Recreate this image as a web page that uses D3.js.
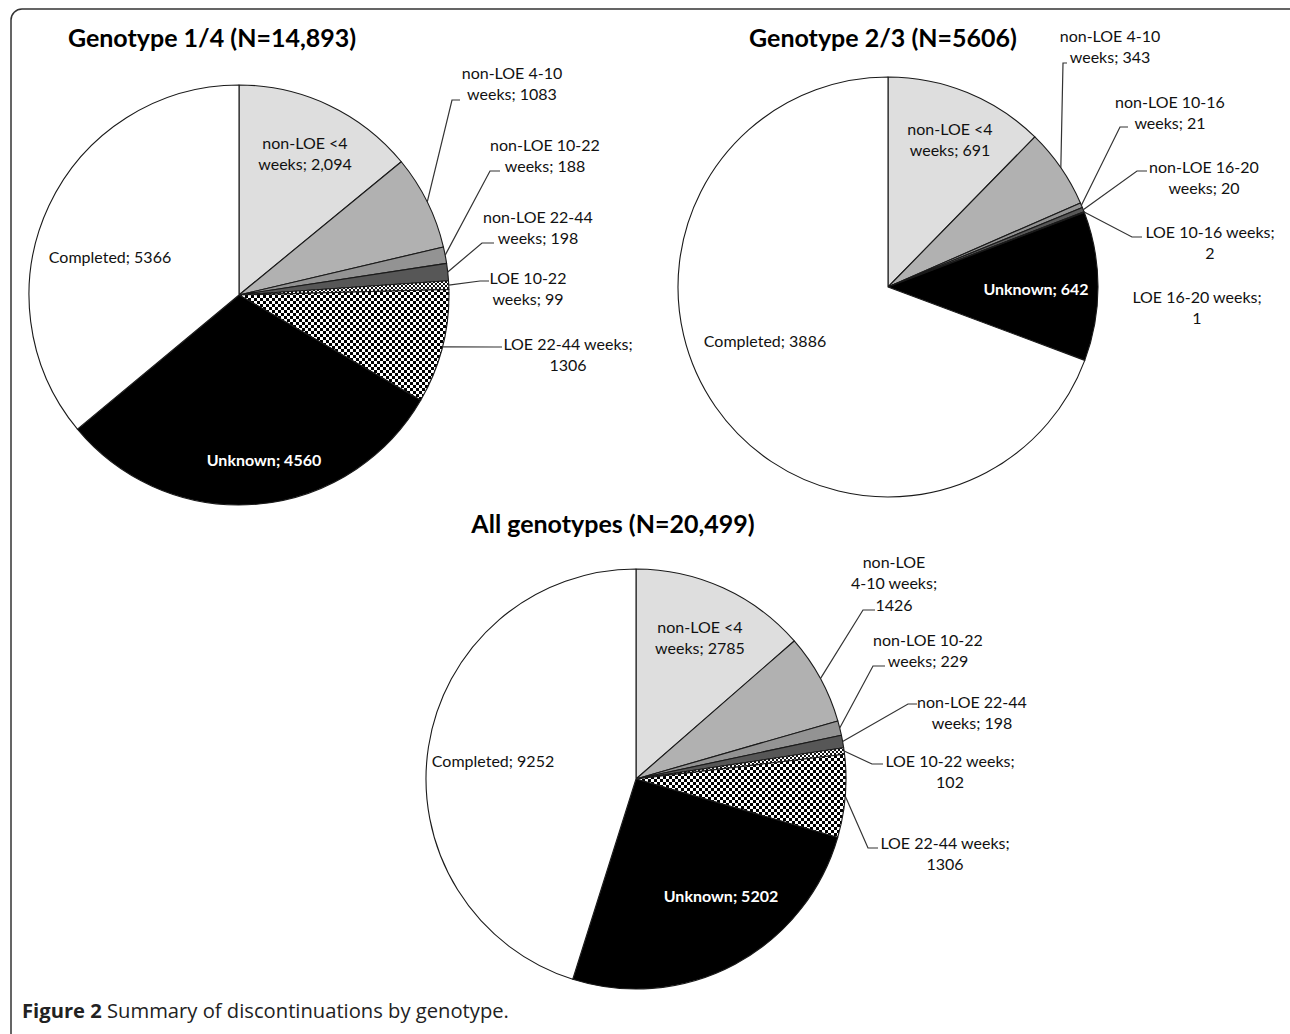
<!DOCTYPE html>
<html><head><meta charset="utf-8">
<script src="https://cdn.jsdelivr.net/npm/d3@7"></script>
<style>
html,body{margin:0;padding:0;background:#fff;}
svg{display:block;}
text{font-family:Lato,"Open Sans",sans-serif;fill:#111;}
</style></head>
<body>
<svg id="chart" width="1290" height="1034"></svg>
<script>
// ---------- DATA ----------
const titles = ["Genotype 1/4 (N=14,893)", "Genotype 2/3 (N=5606)", "All genotypes (N=20,499)"];
const categories1 = ["non-LOE <4 weeks","non-LOE 4-10 weeks","non-LOE 10-22 weeks","non-LOE 22-44 weeks","LOE 10-22 weeks","LOE 22-44 weeks","Unknown","Completed"];
const values1 = [2094, 1083, 188, 198, 99, 1306, 4560, 5366];
const categories2 = ["non-LOE <4 weeks","non-LOE 4-10 weeks","non-LOE 10-16 weeks","non-LOE 16-20 weeks","LOE 10-16 weeks","LOE 16-20 weeks","Unknown","Completed"];
const values2 = [691, 343, 21, 20, 2, 1, 642, 3886];
const categories3 = ["non-LOE <4 weeks","non-LOE 4-10 weeks","non-LOE 10-22 weeks","non-LOE 22-44 weeks","LOE 10-22 weeks","LOE 22-44 weeks","Unknown","Completed"];
const values3 = [2785, 1426, 229, 198, 102, 1306, 5202, 9252];
const captionBold = "Figure 2";
const captionText = " Summary of discontinuations by genotype.";

// ---------- LAYOUT ----------
const sliceFills = ["#dedede", "#b1b1b1", "#939393", "#575757", "url(#checkFine)", "url(#checkBig)", "#000000", "#ffffff"];
const R = 210;
const pieLayouts = [
  { cx: 239, cy: 295, title: [212, 38], labels: [
    { x: 305, y: 143, br: [2], comma: true },
    { x: 512, y: 73, br: [2], lead: [[452,100],[460,100]] },
    { x: 545, y: 145, br: [2], lead: [[490,171],[500,171]] },
    { x: 538, y: 217, br: [2], lead: [[482,243],[494,243]] },
    { x: 528, y: 278, br: [2], lead: [[480,281],[489,281]] },
    { x: 568, y: 344, br: [3], lead: [[495,347],[502,347]] },
    { x: 264, y: 460, br: [], bold: true, white: true },
    { x: 110, y: 257, br: [] } ] },
  { cx: 888, cy: 287, title: [883, 38], labels: [
    { x: 950, y: 129, br: [2] },
    { x: 1110, y: 36, br: [2], lead: [[1063,63],[1067,63]] },
    { x: 1170, y: 102, br: [2], lead: [[1120,127],[1128,127]] },
    { x: 1204, y: 167, br: [2], lead: [[1137,171],[1147,171]] },
    { x: 1210, y: 232, br: [3], lead: [[1132,237],[1142,237]] },
    { x: 1197, y: 297, br: [3] },
    { x: 1036, y: 289, br: [], bold: true, white: true },
    { x: 765, y: 341, br: [] } ] },
  { cx: 636, cy: 779, title: [613, 524], labels: [
    { x: 700, y: 627, br: [2] },
    { x: 894, y: 562, br: [1, 3], lead: [[863,610],[875,610]] },
    { x: 928, y: 640, br: [2], lead: [[873,666],[885,666]] },
    { x: 972, y: 702, br: [2], lead: [[908,704],[917,704]] },
    { x: 950, y: 761, br: [3], lead: [[872,764],[883,764]] },
    { x: 945, y: 843, br: [3], lead: [[868,848],[878,848]] },
    { x: 721, y: 896, br: [], bold: true, white: true },
    { x: 493, y: 761, br: [] } ] }
];
const lineGap = 21.5;

// ---------- DRAW ----------
const svg = d3.select("#chart");
const defs = svg.append("defs");
const pBig = defs.append("pattern").attr("id","checkBig").attr("patternUnits","userSpaceOnUse").attr("width",6).attr("height",6);
pBig.append("rect").attr("width",6).attr("height",6).attr("fill","#fff");
pBig.append("rect").attr("width",3).attr("height",3).attr("fill","#000");
pBig.append("rect").attr("x",3).attr("y",3).attr("width",3).attr("height",3).attr("fill","#000");
const pFine = defs.append("pattern").attr("id","checkFine").attr("patternUnits","userSpaceOnUse").attr("width",4).attr("height",4);
pFine.append("rect").attr("width",4).attr("height",4).attr("fill","#fff");
pFine.append("rect").attr("width",2).attr("height",2).attr("fill","#111");
pFine.append("rect").attr("x",2).attr("y",2).attr("width",2).attr("height",2).attr("fill","#111");

// frame
svg.append("rect").attr("x",11).attr("y",9).attr("width",1300).attr("height",1040).attr("rx",11)
  .attr("fill","none").attr("stroke","#333").attr("stroke-width",1.5);

const datasets = [[categories1, values1], [categories2, values2], [categories3, values3]];
const pie = d3.pie().sort(null).value(d => d.v).startAngle(0).endAngle(2 * Math.PI);
const arc = d3.arc().innerRadius(0).outerRadius(R);
const edge = d3.arc().innerRadius(R).outerRadius(R);
const fmtComma = d3.format(",");

datasets.forEach(([cats, vals], i) => {
  const L = pieLayouts[i];
  const g = svg.append("g").attr("transform", `translate(${L.cx},${L.cy})`);
  const arcs = pie(cats.map((c, k) => ({ c, v: vals[k], k })));
  g.selectAll("path").data(arcs).join("path")
    .attr("d", arc)
    .attr("fill", d => sliceFills[d.data.k])
    .attr("stroke", "#1a1a1a").attr("stroke-width", 1.1).attr("stroke-linejoin", "round");

  svg.append("text").attr("x", L.title[0]).attr("y", L.title[1]).attr("dy", "0.35em")
    .attr("text-anchor", "middle").attr("font-weight", "bold").attr("font-size", 25)
    .style("fill", "#000").text(titles[i]);

  arcs.forEach(d => {
    const lab = L.labels[d.data.k];
    if (lab.lead) {
      const m = edge.centroid(d);
      const pts = [[L.cx + m[0], L.cy + m[1]], ...lab.lead];
      svg.append("path").attr("d", d3.line()(pts)).attr("fill", "none")
        .attr("stroke", "#333").attr("stroke-width", 1.2);
    }
    const valStr = lab.comma ? fmtComma(d.data.v) : String(d.data.v);
    const words = (d.data.c + "; " + valStr).split(" ");
    const cuts = [0, ...lab.br, words.length];
    const lines = [];
    for (let q = 0; q < cuts.length - 1; q++) lines.push(words.slice(cuts[q], cuts[q + 1]).join(" "));
    const t = svg.append("text").attr("text-anchor", "middle").attr("font-size", 16)
      .attr("font-weight", lab.bold ? "bold" : "normal");
    if (lab.white) t.style("fill", "#fff");
    lines.forEach((ln, q) => {
      t.append("tspan").attr("x", lab.x).attr("y", lab.y + q * lineGap).attr("dy", "0.35em").text(ln);
    });
  });
});

// caption
const cap = svg.append("text").attr("x", 22).attr("y", 1018).attr("font-size", 20.2)
  .style("font-family", "'Open Sans', sans-serif").style("fill", "#222");
cap.append("tspan").attr("font-weight", "bold").text(captionBold);
cap.append("tspan").text(captionText);
</script>
</body></html>
